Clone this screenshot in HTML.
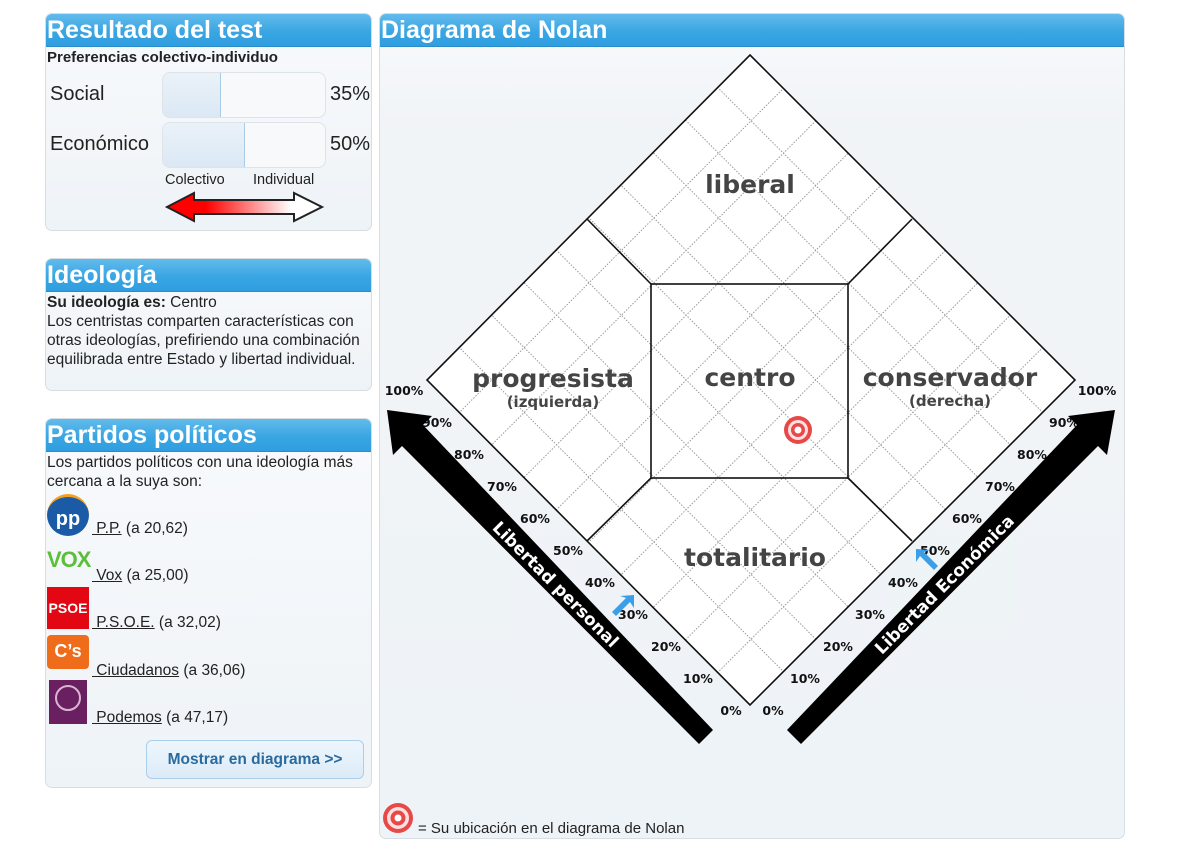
<!DOCTYPE html>
<html><head><meta charset="utf-8">
<style>
html,body{margin:0;width:1201px;height:854px;overflow:hidden}
body{background:#fff;font-family:"Liberation Sans",sans-serif;color:#222;position:relative}
.box{position:absolute;border:1px solid #d6dde3;border-radius:7px;background:linear-gradient(#f8fafc,#eef3f7);overflow:hidden}
.hd{height:32px;background:linear-gradient(#62bbec,#3aa6e3 55%,#2f9ee0);color:#fff;font-weight:bold;font-size:25px;line-height:32px;padding-left:1px;border-bottom:1px solid #2a8ccc}
.t{font-size:15.5px;line-height:19px;padding-left:1px}
.bar{position:absolute;left:116px;width:162px;height:44px;border:1px solid #dde3e8;border-radius:8px;background:#f7f9fb;overflow:hidden}
.bar div{height:100%;background:linear-gradient(#eaf2f9,#dbe8f4);border-right:1px solid #a9cbe6}
.lbl{position:absolute;font-size:20px}
a{color:#222;text-decoration:underline}
.p{position:absolute;left:0;font-size:15.5px}
</style></head><body>
<div class="box" style="left:45px;top:13px;width:325px;height:216px">
 <div class="hd">Resultado del test</div>
 <div style="font-weight:bold;font-size:15px;padding:2px 1px">Preferencias colectivo-individuo</div>
 <div class="lbl" style="left:4px;top:69px">Social</div>
 <div class="bar" style="top:58px"><div style="width:57px"></div></div>
 <div class="lbl" style="left:284px;top:69px">35%</div>
 <div class="lbl" style="left:4px;top:119px">Económico</div>
 <div class="bar" style="top:108px"><div style="width:81px"></div></div>
 <div class="lbl" style="left:284px;top:119px">50%</div>
 <div style="position:absolute;left:119px;top:158px;font-size:14.5px">Colectivo</div>
 <div style="position:absolute;left:207px;top:158px;font-size:14.5px">Individual</div>
 <svg style="position:absolute;left:118px;top:176px" width="162" height="36"><defs><linearGradient id="rg"><stop offset="0.25" stop-color="#f00"/><stop offset="0.8" stop-color="#fff"/></linearGradient></defs>
 <polygon points="3,17 30,3 30,10 130,10 130,3 158,17 130,31 130,24 30,24 30,31" fill="url(#rg)" stroke="#222" stroke-width="2"/></svg>
</div>

<div class="box" style="left:45px;top:258px;width:325px;height:131px">
 <div class="hd">Ideología</div>
 <div class="t" style="padding-top:1px"><b>Su ideología es:</b> Centro<br>Los centristas comparten características con otras ideologías, prefiriendo una combinación equilibrada entre Estado y libertad individual.</div>
</div>

<div class="box" style="left:45px;top:418px;width:325px;height:368px">
 <div class="hd">Partidos políticos</div>
 <div class="t" style="padding-top:1px">Los partidos políticos con una ideología más cercana a la suya son:</div>
 <div style="position:absolute;left:1px;top:75px;width:42px;height:42px;border-radius:50%;background:#1a5aa6;color:#fff;font-weight:bold;font-size:20px;line-height:44px;text-align:center;border-top:3px solid #f3a020;box-sizing:border-box">pp</div>
 <div class="p" style="left:46px;top:101px"><a>&nbsp;P.P.</a> (a 20,62)</div>
 <div style="position:absolute;left:1px;top:128px;color:#5cbf3a;font-weight:bold;font-size:22px;letter-spacing:-1px">VOX</div>
 <div class="p" style="left:46px;top:148px"><a>&nbsp;Vox</a> (a 25,00)</div>
 <div style="position:absolute;left:1px;top:168px;width:42px;height:42px;background:#e30613;color:#fff;font-weight:bold;font-size:14px;line-height:42px;text-align:center">PSOE</div>
 <div class="p" style="left:46px;top:195px"><a>&nbsp;P.S.O.E.</a> (a 32,02)</div>
 <div style="position:absolute;left:1px;top:216px;width:42px;height:34px;background:#ef6c1a;border-radius:4px;color:#fff;font-weight:bold;font-size:18px;line-height:32px;text-align:center">C’s</div>
 <div class="p" style="left:46px;top:243px"><a>&nbsp;Ciudadanos</a> (a 36,06)</div>
 <div style="position:absolute;left:3px;top:261px;width:38px;height:44px;background:#6a2060"><div style="margin:5px 6px;width:22px;height:22px;border:2px solid #d9b6d4;border-radius:50%"></div></div>
 <div class="p" style="left:46px;top:290px"><a>&nbsp;Podemos</a> (a 47,17)</div>
 <div style="position:absolute;left:100px;top:321px;width:216px;height:37px;border:1px solid #a9cfec;border-radius:6px;background:linear-gradient(#eef6fc,#dcebf8);color:#2a6a9e;font-weight:bold;font-size:15.5px;line-height:37px;text-align:center">Mostrar en diagrama &gt;&gt;</div>
</div>

<div class="box" style="left:379px;top:13px;width:744px;height:824px;background:linear-gradient(#f8fafc 0,#f1f4f7 110px,#eef3f7)">
 <div class="hd">Diagrama de Nolan</div>
</div>
<svg style="position:absolute;left:0;top:0;display:block" width="1201" height="854">
 <defs><clipPath id="dc"><polygon points="750,55 1075,380 750,705 427,380"/></clipPath></defs>
 <polygon points="750,55 1075,380 750,705 427,380" fill="#fff"/>
 <g clip-path="url(#dc)" stroke="#999" stroke-width="1" stroke-dasharray="1.5,1.5">
  <line x1="380" y1="491.8" x2="1130" y2="-258.2"/><line x1="380" y1="556.6" x2="1130" y2="-193.4"/><line x1="380" y1="621.4" x2="1130" y2="-128.6"/><line x1="380" y1="686.2" x2="1130" y2="-63.8"/><line x1="380" y1="751" x2="1130" y2="1"/><line x1="380" y1="815.8" x2="1130" y2="65.8"/><line x1="380" y1="880.6" x2="1130" y2="130.6"/><line x1="380" y1="945.4" x2="1130" y2="195.4"/><line x1="380" y1="1010.2" x2="1130" y2="260.2"/>
  <line x1="380" y1="268.2" x2="1130" y2="1018.2"/><line x1="380" y1="203.4" x2="1130" y2="953.4"/><line x1="380" y1="138.6" x2="1130" y2="888.6"/><line x1="380" y1="73.8" x2="1130" y2="823.8"/><line x1="380" y1="9" x2="1130" y2="759"/><line x1="380" y1="-55.8" x2="1130" y2="694.2"/><line x1="380" y1="-120.6" x2="1130" y2="629.4"/><line x1="380" y1="-185.4" x2="1130" y2="564.6"/><line x1="380" y1="-250.2" x2="1130" y2="499.8"/>
 </g>
 <g stroke="#111" stroke-width="1.6" fill="none">
  <polygon points="750,55 1075,380 750,705 427,380"/>
  <rect x="651" y="284" width="197" height="194"/>
  <line x1="651" y1="284" x2="587" y2="219"/><line x1="848" y1="284" x2="912" y2="219"/>
  <line x1="651" y1="478" x2="587" y2="541"/><line x1="848" y1="478" x2="912" y2="541"/>
 </g>
 <g fill="#444" font-weight="bold" font-family="DejaVu Sans,sans-serif" text-anchor="middle">
  <text x="750" y="193" font-size="25">liberal</text>
  <text x="553" y="387" font-size="25">progresista</text>
  <text x="553" y="407" font-size="15">(izquierda)</text>
  <text x="750" y="386" font-size="25">centro</text>
  <text x="950" y="386" font-size="25">conservador</text>
  <text x="950" y="406" font-size="15">(derecha)</text>
  <text x="755" y="566" font-size="25">totalitario</text>
 </g>
 <g fill="#111" font-weight="bold" font-family="DejaVu Sans,sans-serif" font-size="12.5" text-anchor="middle">
  <text x="731" y="715">0%</text><text x="698" y="683">10%</text><text x="666" y="651">20%</text><text x="633" y="619">30%</text><text x="600" y="587">40%</text><text x="568" y="555">50%</text><text x="535" y="523">60%</text><text x="502" y="491">70%</text><text x="469" y="459">80%</text><text x="437" y="427">90%</text><text x="404" y="395">100%</text>
  <text x="773" y="715">0%</text><text x="805" y="683">10%</text><text x="838" y="651">20%</text><text x="870" y="619">30%</text><text x="903" y="587">40%</text><text x="935" y="555">50%</text><text x="967" y="523">60%</text><text x="1000" y="491">70%</text><text x="1032" y="459">80%</text><text x="1064" y="427">90%</text><text x="1097" y="395">100%</text>
 </g>
 <polygon points="713,730 699,744 402,446 393,455 387,410 432,416 423,425" fill="#000"/>
 <polygon points="787,730 801,744 1098,446 1107,455 1115,410 1068,416 1077,425" fill="#000"/>
 <text transform="translate(555,585) rotate(45)" fill="#fff" font-weight="bold" font-family="DejaVu Sans,sans-serif" font-size="17" text-anchor="middle" dominant-baseline="middle">Libertad personal</text>
 <text transform="translate(945,585) rotate(-45)" fill="#fff" font-weight="bold" font-family="DejaVu Sans,sans-serif" font-size="17" text-anchor="middle" dominant-baseline="middle">Libertad Económica</text>
 <g><circle cx="798" cy="430" r="14" fill="#e84848"/><circle cx="798" cy="430" r="10" fill="#fbe0e0"/><circle cx="798" cy="430" r="7" fill="#e84848"/><circle cx="798" cy="430" r="3.5" fill="#fff"/></g>
 <polygon points="612,612 626,598 620,596 634,595 634,608 630,602 616,616" fill="#3a9ee8"/>
 <polygon points="938,566 924,552 930,550 916,549 916,562 920,556 934,570" fill="#3a9ee8"/>
 <g><circle cx="398" cy="818" r="15" fill="#e84848"/><circle cx="398" cy="818" r="11" fill="#fbe0e0"/><circle cx="398" cy="818" r="7.5" fill="#e84848"/><circle cx="398" cy="818" r="3.5" fill="#fff"/></g>
 <text x="418" y="833" font-size="15" fill="#222" font-family="Liberation Sans,sans-serif">= Su ubicación en el diagrama de Nolan</text>
</svg>
</body></html>
